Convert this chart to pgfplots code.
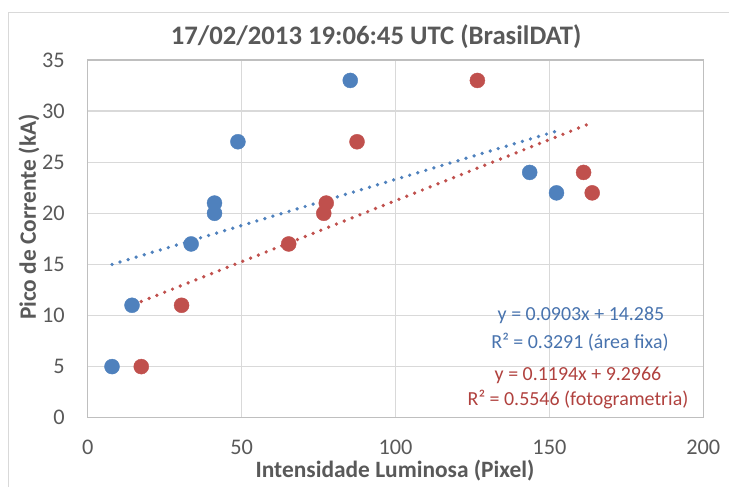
\documentclass[border=0pt]{standalone}
\usepackage{pgfplots}
\pgfplotsset{compat=1.18}
\usepackage{fontspec}
\setmainfont{Carlito}

\definecolor{serblue}{HTML}{4F81BD}
\definecolor{serred}{HTML}{C0504D}
\definecolor{txtblue}{HTML}{4873AE}
\definecolor{txtred}{HTML}{B0413E}
\definecolor{txtgray}{HTML}{595959}
\definecolor{gridgray}{HTML}{D9D9D9}
\definecolor{axgray}{HTML}{BFBFBF}

\begin{document}
\begin{tikzpicture}
\useasboundingbox (0,0) rectangle (729bp,487bp);
% chart frame (only left and top are visible in the reference)
\draw[gridgray, line width=1bp] (8bp,-5bp) -- (8bp,474.3bp) -- (735bp,474.3bp);

\begin{axis}[
  at={(87.7bp,69.3bp)}, anchor=south west,
  scale only axis,
  width=615.6bp, height=357.7bp,
  xmin=0, xmax=200, ymin=0, ymax=35,
  xtick={0,50,...,200},
  ytick={0,5,...,35},
  major tick length=0pt,
  grid=major,
  major grid style={gridgray, line width=1.4bp},
  axis line style={axgray, line width=1.4bp},
  /pgf/number format/assume math mode=true,
  tick label style={font=\fontsize{22.4}{24}\selectfont, text=txtgray, inner sep=0pt},
  xticklabel style={anchor=center, yshift=-29.5bp},
  yticklabel style={anchor=east, xshift=-22.7bp},
  clip=false,
]
% area fixa
\addplot[only marks, mark=*, mark size=7.5bp, mark options={fill=serblue, draw=serblue}]
  coordinates {(7.9,5) (14.4,11) (33.6,17) (41.2,20) (41.2,21) (48.8,27) (85.3,33) (143.6,24) (152.3,22)};
% fotogrametria
\addplot[only marks, mark=*, mark size=7.5bp, mark options={fill=serred, draw=serred}]
  coordinates {(17.4,5) (30.5,11) (65.3,17) (76.7,20) (77.5,21) (87.5,27) (126.6,33) (161.1,24) (163.9,22)};
% trendlines (end points of y = 0.0903x + 14.285 and y = 0.1194x + 9.2966)
\addplot[serblue, line width=3.7bp, line cap=round, dash pattern=on 0pt off 8.4bp]
  coordinates {(7.9,15.00) (152.3,28.04)};
\addplot[serred, line width=3.7bp, line cap=round, dash pattern=on 0pt off 8.4bp]
  coordinates {(17.4,11.37) (163.9,28.87)};
\end{axis}

\node[text=txtgray, font=\fontsize{26.8}{29}\selectfont\bfseries] at (376bp,450bp) {17/02/2013 19:06:45 UTC (BrasilDAT)};
\node[text=txtgray, font=\fontsize{23.5}{26}\selectfont\bfseries, inner sep=0pt] at (395bp,16.5bp) {Intensidade Luminosa (Pixel)};
\node[text=txtgray, font=\fontsize{23.5}{26}\selectfont\bfseries, rotate=90] at (29bp,270bp) {Pico de Corrente (kA)};

\node[text=txtblue, font=\fontsize{20}{22}\selectfont] at (581bp,172bp) {y = 0.0903x + 14.285};
\node[text=txtblue, font=\fontsize{20}{22}\selectfont] at (580bp,145.3bp) {R² = 0.3291 (área fixa)};
\node[text=txtred, font=\fontsize{20}{22}\selectfont] at (578bp,112bp) {y = 0.1194x + 9.2966};
\node[text=txtred, font=\fontsize{20}{22}\selectfont] at (578bp,87bp) {R² = 0.5546 (fotogrametria)};
\end{tikzpicture}
\end{document}
